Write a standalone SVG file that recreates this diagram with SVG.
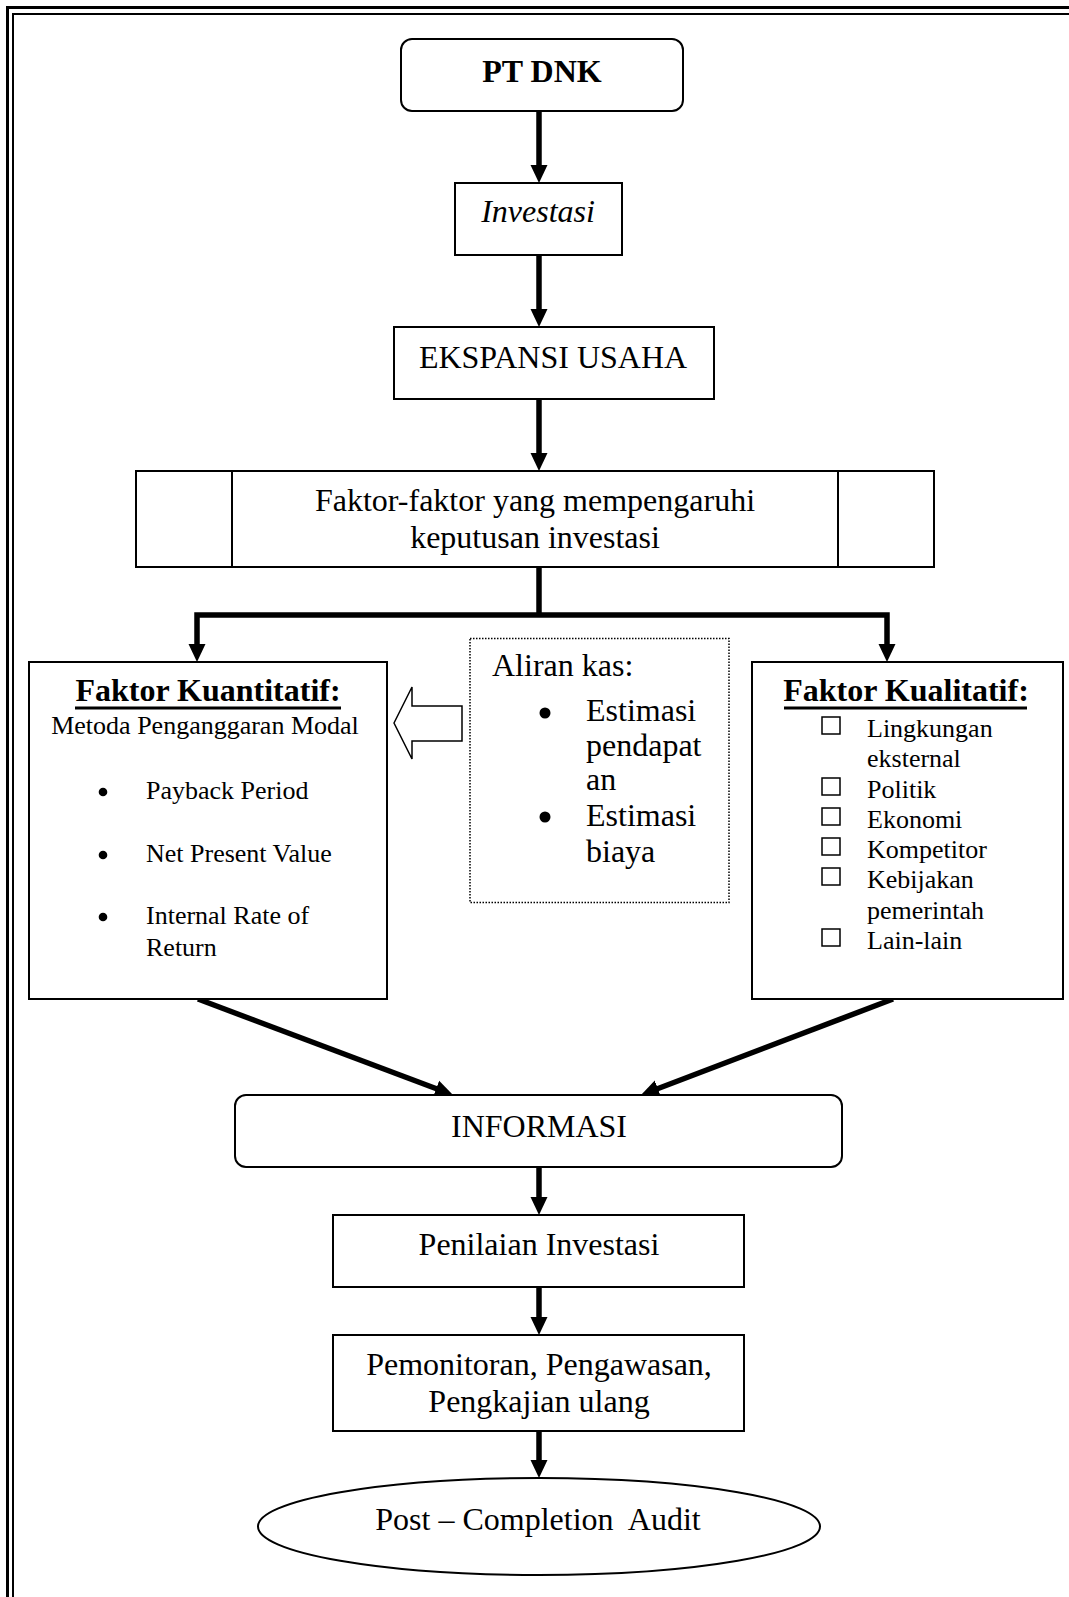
<svg xmlns="http://www.w3.org/2000/svg" width="1069" height="1597" viewBox="0 0 1069 1597">
<style>
  text { font-family: "Liberation Serif", "Times New Roman", serif; fill: #000; }
  .t32 { font-size: 32px; }
  .t26 { font-size: 26px; }
  .mid { text-anchor: middle; }
  .box { fill: #fff; stroke: #000; stroke-width: 2; }
  .thin { fill: none; stroke: #000; stroke-width: 1.5; }
  .conn { fill: none; stroke: #000; stroke-width: 5.5; stroke-linejoin: miter; }
  .chk { fill: none; stroke: #000; stroke-width: 1.5; }
</style>
<defs>
  <marker id="ah" viewBox="0 0 18 18" markerWidth="18" markerHeight="18" markerUnits="userSpaceOnUse" refX="6" refY="9" orient="auto">
    <path d="M0,0.5 L18,9 L0,17.5 Z" fill="#000"/>
  </marker>
</defs>
<rect width="1069" height="1597" fill="#fff"/>
<g id="border">
  <rect x="7.5" y="7.5" width="1100" height="1650" fill="none" stroke="#000" stroke-width="3"/>
  <rect x="13" y="14" width="1100" height="1650" fill="none" stroke="#000" stroke-width="2"/>
</g>
<g id="connectors">
  <line class="conn" x1="539" y1="111" x2="539" y2="171" marker-end="url(#ah)"/>
  <line class="conn" x1="539" y1="255" x2="539" y2="315" marker-end="url(#ah)"/>
  <line class="conn" x1="539" y1="399" x2="539" y2="459" marker-end="url(#ah)"/>
  <line class="conn" x1="539" y1="567" x2="539" y2="615"/>
  <path class="conn" d="M539,615 H197 V650" stroke-width="6" marker-end="url(#ah)"/>
  <path class="conn" d="M539,615 H887 V650" stroke-width="6" marker-end="url(#ah)"/>
  <line class="conn" x1="198" y1="999" x2="441.8" y2="1090.8" marker-end="url(#ah)"/>
  <line class="conn" x1="893" y1="999" x2="652.2" y2="1090.7" marker-end="url(#ah)"/>
  <line class="conn" x1="539" y1="1167" x2="539" y2="1203" marker-end="url(#ah)"/>
  <line class="conn" x1="539" y1="1287" x2="539" y2="1323" marker-end="url(#ah)"/>
  <line class="conn" x1="539" y1="1431" x2="539" y2="1466" marker-end="url(#ah)"/>
  <polygon id="block-arrow" points="394,723 412,687 412,706 462,706 462,741 412,741 412,759" fill="#fff" stroke="#000" stroke-width="1.5"/>
</g>
<g id="pt-dnk">
  <rect class="box" x="401" y="39" width="282" height="72" rx="11"/>
  <text class="t32 mid" x="542" y="82" font-weight="bold">PT DNK</text>
</g>
<g id="investasi">
  <rect class="box" x="455" y="183" width="167" height="72"/>
  <text class="t32 mid" x="538" y="222" font-style="italic">Investasi</text>
</g>
<g id="ekspansi">
  <rect class="box" x="394" y="327" width="320" height="72"/>
  <text class="t32 mid" x="553" y="368">EKSPANSI USAHA</text>
</g>
<g id="faktor-faktor">
  <rect class="box" x="136" y="471" width="798" height="96"/>
  <line x1="232" y1="471" x2="232" y2="567" stroke="#000" stroke-width="2"/>
  <line x1="838" y1="471" x2="838" y2="567" stroke="#000" stroke-width="2"/>
  <text class="t32 mid" x="535" y="511">Faktor-faktor yang mempengaruhi</text>
  <text class="t32 mid" x="535" y="548">keputusan investasi</text>
</g>
<g id="kuantitatif">
  <rect class="box" x="29" y="662" width="358" height="337"/>
  <text class="t32 mid" x="208" y="701" font-weight="bold">Faktor Kuantitatif:</text>
  <line x1="75" y1="708" x2="341" y2="708" stroke="#000" stroke-width="3"/>
  <text class="t26 mid" x="205" y="734">Metoda Penganggaran Modal</text>
  <circle cx="103" cy="792" r="4.3"/>
  <text class="t26" x="146" y="799">Payback Period</text>
  <circle cx="103" cy="855" r="4.3"/>
  <text class="t26" x="146" y="862">Net Present Value</text>
  <circle cx="103" cy="917" r="4.3"/>
  <text class="t26" x="146" y="924">Internal Rate of</text>
  <text class="t26" x="146" y="956">Return</text>
</g>
<g id="aliran-kas">
  <rect x="470" y="638.5" width="259" height="264" fill="#fff" stroke="#000" stroke-width="1.5" stroke-dasharray="1.5 1.5"/>
  <text class="t32" x="492" y="676">Aliran kas:</text>
  <circle cx="545" cy="713" r="5.5"/>
  <text class="t32" x="586" y="721">Estimasi</text>
  <text class="t32" x="586" y="756">pendapat</text>
  <text class="t32" x="586" y="790">an</text>
  <circle cx="545" cy="817" r="5.5"/>
  <text class="t32" x="586" y="826">Estimasi</text>
  <text class="t32" x="586" y="862">biaya</text>
</g>
<g id="kualitatif">
  <rect class="box" x="752" y="662" width="311" height="337"/>
  <text class="t32 mid" x="906" y="701" font-weight="bold">Faktor Kualitatif:</text>
  <line x1="784" y1="708" x2="1027" y2="708" stroke="#000" stroke-width="3"/>
  <rect class="chk" x="822" y="717" width="18" height="17"/>
  <text class="t26" x="867" y="737">Lingkungan</text>
  <text class="t26" x="867" y="767">eksternal</text>
  <rect class="chk" x="822" y="778" width="18" height="17"/>
  <text class="t26" x="867" y="798">Politik</text>
  <rect class="chk" x="822" y="808" width="18" height="17"/>
  <text class="t26" x="867" y="828">Ekonomi</text>
  <rect class="chk" x="822" y="838" width="18" height="17"/>
  <text class="t26" x="867" y="858">Kompetitor</text>
  <rect class="chk" x="822" y="868" width="18" height="17"/>
  <text class="t26" x="867" y="888">Kebijakan</text>
  <text class="t26" x="867" y="919">pemerintah</text>
  <rect class="chk" x="822" y="929" width="18" height="17"/>
  <text class="t26" x="867" y="949">Lain-lain</text>
</g>
<g id="informasi">
  <rect class="box" x="235" y="1095" width="607" height="72" rx="11"/>
  <text class="t32 mid" x="539" y="1137">INFORMASI</text>
</g>
<g id="penilaian">
  <rect class="box" x="333" y="1215" width="411" height="72"/>
  <text class="t32 mid" x="539" y="1255">Penilaian Investasi</text>
</g>
<g id="pemonitoran">
  <rect class="box" x="333" y="1335" width="411" height="96"/>
  <text class="t32 mid" x="539" y="1375">Pemonitoran, Pengawasan,</text>
  <text class="t32 mid" x="539" y="1412">Pengkajian ulang</text>
</g>
<g id="audit">
  <ellipse class="box" cx="539" cy="1526.5" rx="281" ry="48.5"/>
  <text class="t32 mid" x="538" y="1530" xml:space="preserve">Post – Completion  Audit</text>
</g>
</svg>
